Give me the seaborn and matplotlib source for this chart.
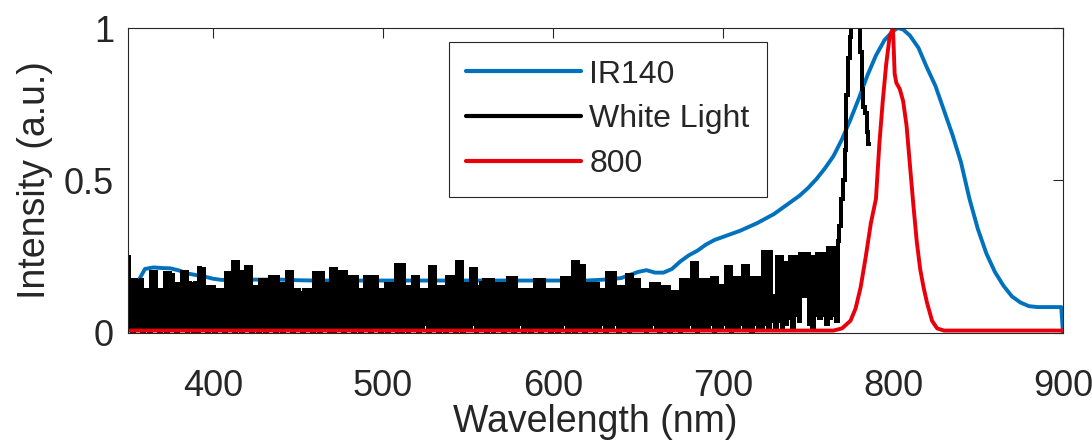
import matplotlib
matplotlib.use("Agg")
import matplotlib.pyplot as plt
import pandas as pd
import seaborn as sns

# IR140 dye absorption, normalised
ir140_nm = [356, 360, 365, 370, 375, 380, 385, 390, 395, 400,
            405, 410, 420, 430, 440, 450, 460, 470, 480, 490,
            500, 510, 520, 530, 540, 550, 560, 570, 580, 590,
            600, 610, 620, 630, 640, 645, 650, 655, 660, 665,
            670, 675, 680, 685, 690, 695, 700, 705, 710, 716,
            720, 725, 730, 735, 740, 745, 750, 755, 760, 765,
            770, 775, 780, 785, 790, 795, 800, 803, 806, 810,
            815, 820, 825, 830, 835, 840, 845, 850, 855, 860,
            865, 870, 875, 880, 885, 890, 895, 899, 900]
ir140_val = [0.17, 0.21, 0.215, 0.213, 0.212, 0.205, 0.195, 0.19, 0.185, 0.178,
             0.174, 0.174, 0.175, 0.175, 0.175, 0.173, 0.172, 0.172, 0.172, 0.172,
             0.172, 0.172, 0.172, 0.172, 0.172, 0.172, 0.172, 0.172, 0.172, 0.172,
             0.172, 0.172, 0.172, 0.175, 0.18, 0.19, 0.2, 0.206, 0.198, 0.198,
             0.21, 0.235, 0.255, 0.27, 0.29, 0.305, 0.315, 0.325, 0.335, 0.35,
             0.36, 0.375, 0.39, 0.41, 0.43, 0.45, 0.475, 0.505, 0.54, 0.58,
             0.635, 0.70, 0.77, 0.845, 0.91, 0.96, 0.99, 1.0, 0.995, 0.975,
             0.935, 0.87, 0.81, 0.73, 0.65, 0.56, 0.44, 0.34, 0.26, 0.2,
             0.155, 0.12, 0.1, 0.088, 0.085, 0.085, 0.085, 0.085, 0.0]

# White-light spectrum: noisy floor sampled every nm (maxima on even nm,
# minima on odd nm), followed by the source's emission edge
white_top_nm = list(range(350, 769, 2))
white_top = [0.25, 0.175, 0.175, 0.17, 0.175, 0.14, 0.14, 0.20, 0.20, 0.14,
             0.14, 0.197, 0.197, 0.19, 0.16, 0.16, 0.20, 0.20, 0.163, 0.16,
             0.163, 0.213, 0.21, 0.15, 0.15, 0.15, 0.14, 0.14, 0.14, 0.197,
             0.197, 0.233, 0.233, 0.20, 0.20, 0.216, 0.216, 0.15, 0.15, 0.174,
             0.174, 0.174, 0.185, 0.185, 0.185, 0.16, 0.16, 0.20, 0.20, 0.14,
             0.14, 0.13, 0.14, 0.14, 0.14, 0.197, 0.197, 0.197, 0.16, 0.16,
             0.21, 0.21, 0.20, 0.20, 0.20, 0.185, 0.185, 0.185, 0.14, 0.14,
             0.185, 0.185, 0.185, 0.185, 0.14, 0.14, 0.16, 0.16, 0.16, 0.222,
             0.222, 0.222, 0.15, 0.15, 0.185, 0.185, 0.14, 0.14, 0.14, 0.216,
             0.216, 0.15, 0.15, 0.15, 0.185, 0.185, 0.185, 0.233, 0.233, 0.16,
             0.16, 0.21, 0.21, 0.15, 0.165, 0.174, 0.174, 0.174, 0.16, 0.16,
             0.16, 0.16, 0.18, 0.18, 0.18, 0.14, 0.14, 0.14, 0.14, 0.14,
             0.174, 0.174, 0.174, 0.14, 0.14, 0.14, 0.14, 0.14, 0.18, 0.18,
             0.18, 0.233, 0.233, 0.22, 0.22, 0.16, 0.16, 0.16, 0.16, 0.14,
             0.14, 0.197, 0.197, 0.197, 0.15, 0.15, 0.15, 0.19, 0.19, 0.174,
             0.174, 0.14, 0.14, 0.14, 0.16, 0.16, 0.16, 0.152, 0.152, 0.152,
             0.135, 0.135, 0.135, 0.174, 0.174, 0.174, 0.23, 0.23, 0.174, 0.174,
             0.174, 0.174, 0.18, 0.18, 0.155, 0.155, 0.217, 0.217, 0.18, 0.18,
             0.18, 0.22, 0.22, 0.18, 0.18, 0.18, 0.18, 0.267, 0.267, 0.267,
             0.12, 0.25, 0.25, 0.23, 0.23, 0.25, 0.25, 0.25, 0.26, 0.26,
             0.26, 0.25, 0.25, 0.26, 0.26, 0.26, 0.28, 0.28, 0.28, 0.30]
white_low_nm = list(range(351, 768, 2))
white_low = [0.01, 0.00, 0.01, 0.02, 0.00, 0.01, 0.00, 0.01, 0.02, 0.00,
             0.01, 0.00, 0.02, 0.01, 0.00, 0.01, 0.02, 0.00, 0.01, 0.00,
             0.00, 0.01, 0.02, 0.00, 0.01, 0.00, 0.01, 0.02, 0.00, 0.01,
             0.02, 0.00, 0.01, 0.00, 0.01, 0.02, 0.00, 0.01, 0.00, 0.01,
             0.00, 0.01, 0.02, 0.00, 0.01, 0.00, 0.02, 0.01, 0.00, 0.01,
             0.01, 0.00, 0.02, 0.01, 0.00, 0.01, 0.00, 0.02, 0.01, 0.00,
             0.00, 0.02, 0.01, 0.00, 0.01, 0.02, 0.00, 0.01, 0.00, 0.02,
             0.01, 0.00, 0.01, 0.02, 0.00, 0.01, 0.00, 0.01, 0.02, 0.00,
             0.00, 0.01, 0.00, 0.02, 0.01, 0.00, 0.01, 0.03, 0.00, 0.01,
             0.02, 0.00, 0.01, 0.00, 0.01, 0.02, 0.00, 0.01, 0.00, 0.01,
             0.01, 0.03, 0.00, 0.01, 0.02, 0.00, 0.01, 0.00, 0.02, 0.01,
             0.00, 0.01, 0.02, 0.00, 0.01, 0.03, 0.00, 0.01, 0.00, 0.02,
             0.01, 0.00, 0.02, 0.01, 0.00, 0.01, 0.00, 0.02, 0.03, 0.00,
             0.01, 0.00, 0.02, 0.01, 0.00, 0.01, 0.02, 0.00, 0.01, 0.03,
             0.00, 0.01, 0.02, 0.03, 0.00, 0.01, 0.02, 0.00, 0.01, 0.02,
             0.01, 0.02, 0.00, 0.01, 0.03, 0.02, 0.00, 0.01, 0.02, 0.00,
             0.02, 0.01, 0.00, 0.01, 0.02, 0.03, 0.01, 0.00, 0.01, 0.02,
             0.01, 0.03, 0.00, 0.02, 0.01, 0.03, 0.01, 0.00, 0.02, 0.01,
             0.03, 0.01, 0.02, 0.00, 0.03, 0.01, 0.02, 0.03, 0.01, 0.04,
             0.02, 0.04, 0.01, 0.03, 0.05, 0.02, 0.06, 0.04, 0.12, 0.12,
             0.03, 0.02, 0.06, 0.05, 0.06, 0.03, 0.05, 0.06, 0.04]
white_edge_nm = [769, 770, 771, 772, 773, 774, 775, 776, 777,
                 778, 779, 780, 781, 782, 783, 784, 785, 786]
white_edge_val = [0.35, 0.44, 0.50, 0.60, 0.78, 0.90, 0.97, 1.02, 1.02,
                  1.02, 1.02, 1.02, 0.92, 0.80, 0.74, 0.72, 0.66, 0.62]

# 800 nm laser line (small constant background away from the line)
laser_nm = [350, 765, 770, 775, 778, 781, 784, 787, 790, 792,
            794, 796, 798, 800, 801, 802, 804, 806, 808, 810,
            812, 814, 816, 818, 820, 823, 826, 830, 900]
laser_val = [0.008, 0.008, 0.015, 0.04, 0.08, 0.15, 0.25, 0.36, 0.44, 0.62,
             0.76, 0.88, 0.97, 1.0, 0.85, 0.82, 0.80, 0.76, 0.68, 0.55,
             0.42, 0.30, 0.21, 0.15, 0.10, 0.04, 0.015, 0.008, 0.008]

series_colors = {"IR140": "#0072BD", "White Light": "#000000", "800": "#E8000B"}

# Merge the white-light maxima and minima into one wavelength-ordered trace
white_nm, white_val = [], []
for i, top in enumerate(white_top):
    white_nm.append(white_top_nm[i])
    white_val.append(top)
    if i < len(white_low):
        white_nm.append(white_low_nm[i])
        white_val.append(white_low[i])
white_nm += white_edge_nm
white_val += white_edge_val

ir_df = pd.DataFrame({"nm": ir140_nm, "val": ir140_val})
white_df = pd.DataFrame({"nm": white_nm, "val": white_val})
laser_df = pd.DataFrame({"nm": laser_nm, "val": laser_val})

sns.set_theme(style="white")
plt.rcParams["font.family"] = ["Liberation Sans", "DejaVu Sans"]
text_color = "#262626"
lw = 2.8

fig = plt.figure(figsize=(10.92, 4.48), dpi=100)
ax = fig.add_axes([0.1172, 0.2567, 0.8562, 0.6808])

sns.lineplot(data=ir_df, x="nm", y="val", color=series_colors["IR140"],
             linewidth=lw, sort=False, estimator=None, label="IR140", ax=ax)
sns.lineplot(data=white_df, x="nm", y="val", color=series_colors["White Light"],
             linewidth=lw, sort=False, estimator=None, label="White Light", ax=ax)
sns.lineplot(data=laser_df, x="nm", y="val", color=series_colors["800"],
             linewidth=lw, sort=False, estimator=None, label="800", ax=ax)

# spectrometer samples are drawn as flat steps
white_line = ax.lines[1]
white_line.set_drawstyle("steps-mid")
white_line.set_solid_joinstyle("miter")
white_line.set_antialiased(False)

ax.set_xlim(350, 900)
ax.set_ylim(0, 1)
ax.set_xticks([400, 500, 600, 700, 800, 900])
ax.set_yticks([0, 0.5, 1])
ax.set_yticklabels(["0", "0.5", "1"])
ax.tick_params(direction="in", length=7, width=0.8, top=True, right=True,
               labelsize=26, colors=text_color)
ax.tick_params(axis="x", pad=26)
ax.tick_params(axis="y", pad=10)
for sp in ax.spines.values():
    sp.set_visible(True)
    sp.set_color(text_color)
    sp.set_linewidth(0.8)

ax.set_xlabel("Wavelength (nm)", fontsize=27, color=text_color, labelpad=0)
ax.set_ylabel("Intensity (a.u.)", fontsize=27, color=text_color, labelpad=8)

handles = [ax.lines[0], ax.lines[1], ax.lines[2]]
labels = ["IR140", "White Light", "800"]
leg = ax.legend(handles, labels, loc="upper left", bbox_to_anchor=(0.343, 0.954),
                borderaxespad=0, fontsize=23, frameon=True, fancybox=False,
                framealpha=1, edgecolor=text_color, handlelength=3.6,
                handletextpad=0.25, borderpad=0.55, labelspacing=0.46)
leg.get_frame().set_linewidth(0.8)
for h in leg.legend_handles:
    h.set_linewidth(3.0)
    h.set_drawstyle("default")
    h.set_antialiased(True)
for t in leg.get_texts():
    t.set_color(text_color)

fig.savefig("out.png", dpi=100)
